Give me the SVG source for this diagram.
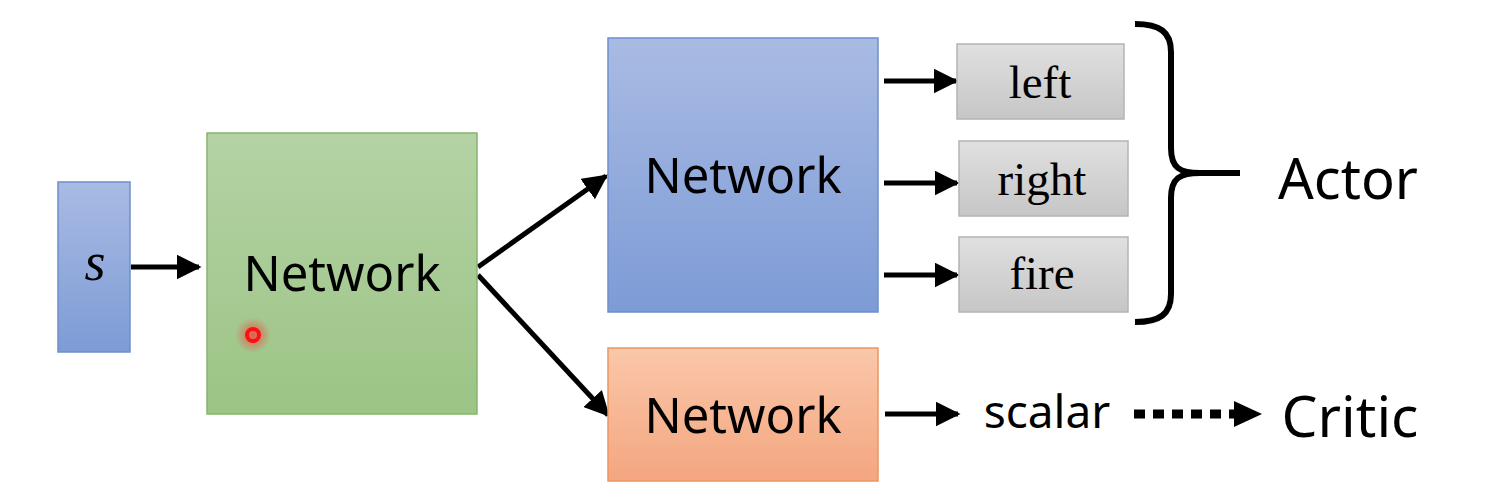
<svg xmlns="http://www.w3.org/2000/svg" width="1486" height="499" viewBox="0 0 1486 499">
<style>
.sans{font-family:"Noto Sans","Open Sans","DejaVu Sans",sans-serif;fill:#000}
.serif{font-family:"Liberation Serif","Times New Roman",serif;fill:#000}
.conn{stroke:#000;stroke-width:5;fill:none}
</style>
<defs>
<linearGradient id="gBlue" x1="0" y1="0" x2="0" y2="1"><stop offset="0" stop-color="#a9bbe3"/><stop offset="1" stop-color="#7d9bd6"/></linearGradient>
<linearGradient id="gGreen" x1="0" y1="0" x2="0" y2="1"><stop offset="0" stop-color="#b4d3a5"/><stop offset="1" stop-color="#9cc485"/></linearGradient>
<linearGradient id="gOrange" x1="0" y1="0" x2="0" y2="1"><stop offset="0" stop-color="#fac7aa"/><stop offset="1" stop-color="#f4a67f"/></linearGradient>
<linearGradient id="gGray" x1="0" y1="0" x2="0" y2="1"><stop offset="0" stop-color="#e0e0e0"/><stop offset="1" stop-color="#c6c6c6"/></linearGradient>
<radialGradient id="glow"><stop offset="0" stop-color="#ff3030" stop-opacity="0.7"/><stop offset="1" stop-color="#ff3030" stop-opacity="0"/></radialGradient>
<marker id="ah" viewBox="0 0 10 10" refX="9" refY="5" markerWidth="5" markerHeight="5" markerUnits="strokeWidth" orient="auto"><path d="M0,0 L10,5 L0,10 z" fill="#000"/></marker>
</defs>
<rect width="1486" height="499" fill="#fff"/>
<g id="connectors">
<line class="conn" x1="131" y1="267" x2="199" y2="267" marker-end="url(#ah)"/>
<line class="conn" x1="478" y1="267" x2="606" y2="176" marker-end="url(#ah)"/>
<line class="conn" x1="478" y1="275" x2="608" y2="415" marker-end="url(#ah)"/>
<line class="conn" x1="884" y1="81" x2="956" y2="81" marker-end="url(#ah)"/>
<line class="conn" x1="884" y1="183" x2="957" y2="183" marker-end="url(#ah)"/>
<line class="conn" x1="884" y1="275" x2="957" y2="275" marker-end="url(#ah)"/>
<line class="conn" x1="885" y1="414" x2="958" y2="414" marker-end="url(#ah)"/>
<line x1="1134" y1="414" x2="1240" y2="414" stroke="#000" stroke-width="9" stroke-dasharray="11,8"/>
<path d="M1234,401 L1262,414 L1234,427 z" fill="#000"/>
</g>
<g id="node-s">
<rect x="58" y="182" width="72" height="170" fill="url(#gBlue)" stroke="#6f8fcc" stroke-width="1.5"/>
<text x="95" y="280" class="serif" font-size="54" font-style="italic" text-anchor="middle">s</text>
</g>
<g id="node-shared">
<rect x="207" y="133" width="270" height="281" fill="url(#gGreen)" stroke="#86b56c" stroke-width="1.5"/>
<text x="342" y="291" class="sans" font-size="49" text-anchor="middle">Network</text>
<circle cx="253" cy="335" r="18" fill="url(#glow)"/>
<circle cx="253" cy="335" r="6" fill="none" stroke="#ff1010" stroke-width="4"/>
</g>
<g id="node-actor-net">
<rect x="608" y="38" width="270" height="274" fill="url(#gBlue)" stroke="#6f8fcc" stroke-width="1.5"/>
<text x="743" y="193" class="sans" font-size="49" text-anchor="middle">Network</text>
</g>
<g id="node-critic-net">
<rect x="608" y="348" width="270" height="133" fill="url(#gOrange)" stroke="#eb9660" stroke-width="1.5"/>
<text x="743" y="433" class="sans" font-size="49" text-anchor="middle">Network</text>
</g>
<g id="node-left">
<rect x="957" y="44" width="167" height="75" fill="url(#gGray)" stroke="#b4b4b4" stroke-width="1.5"/>
<text x="1040" y="98" class="serif" font-size="47" text-anchor="middle">left</text>
</g>
<g id="node-right">
<rect x="959" y="141" width="169" height="75" fill="url(#gGray)" stroke="#b4b4b4" stroke-width="1.5"/>
<text x="1042" y="195" class="serif" font-size="47" text-anchor="middle">right</text>
</g>
<g id="node-fire">
<rect x="959" y="237" width="169" height="75" fill="url(#gGray)" stroke="#b4b4b4" stroke-width="1.5"/>
<text x="1042" y="289" class="serif" font-size="47" text-anchor="middle">fire</text>
</g>
<g id="brace">
<path d="M1135,24 C1160,24 1171,32 1171,52 L1171,148 C1171,168 1180,173 1200,173 L1240,173 M1200,173 C1180,173 1171,178 1171,198 L1171,294 C1171,314 1160,322 1135,322" fill="none" stroke="#000" stroke-width="6"/>
</g>
<g id="label-actor">
<text x="1348" y="199" class="sans" font-size="56" text-anchor="middle">Actor</text>
</g>
<g id="label-scalar">
<text x="1047" y="428" class="sans" font-size="46" text-anchor="middle">scalar</text>
</g>
<g id="label-critic">
<text x="1350" y="437" class="sans" font-size="57" text-anchor="middle">Critic</text>
</g>
</svg>
